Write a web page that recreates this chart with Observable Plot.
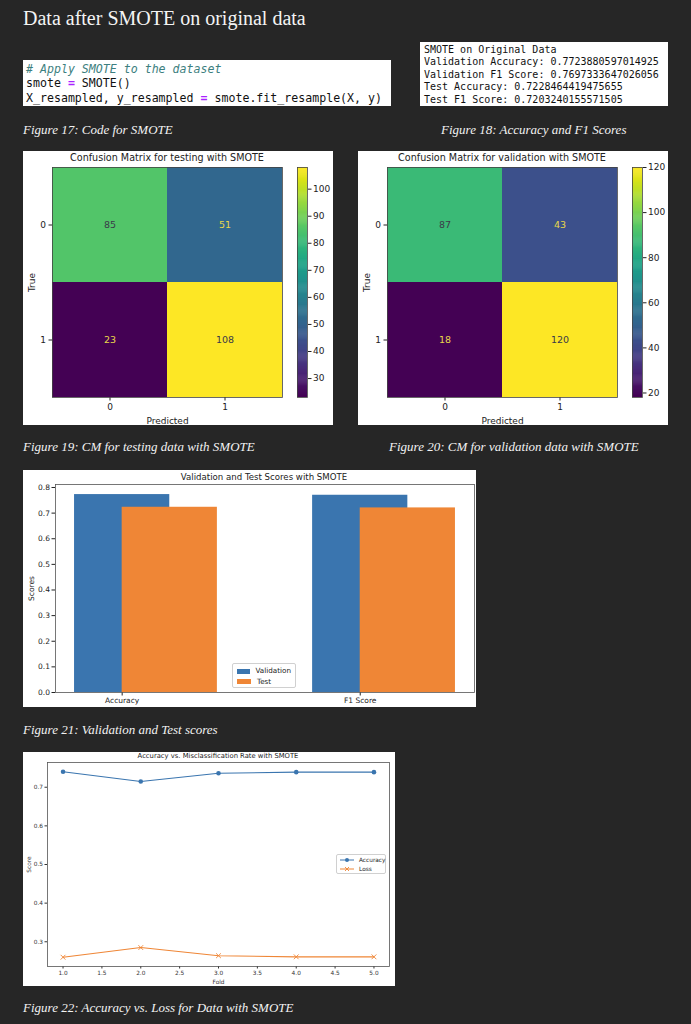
<!DOCTYPE html>
<html><head><meta charset="utf-8">
<script src="https://cdn.jsdelivr.net/npm/d3@7"></script>
<script src="https://cdn.jsdelivr.net/npm/@observablehq/plot@0.6"></script>
<style>
html,body{margin:0;padding:0;background:#262626;}
#page{position:relative;width:691px;height:1024px;overflow:hidden;background:#262626;}
.cap{position:absolute;font-family:"Liberation Serif",serif;font-style:italic;font-size:13px;line-height:16px;color:#f2f2f2;white-space:nowrap;}
.panel{position:absolute;background:#fff;overflow:hidden;}
.mono{font-family:"DejaVu Sans Mono",monospace;white-space:pre;color:#111;}
.ptitle{position:absolute;font-family:"DejaVu Sans",sans-serif;color:#222;white-space:nowrap;transform:translateX(-50%);}
.abs{position:absolute;}
.legend{position:absolute;background:#fff;border:1px solid #d0d0d0;border-radius:2px;font-family:"DejaVu Sans",sans-serif;color:#222;box-sizing:border-box;}
.legend .row{display:flex;align-items:center;white-space:nowrap;}
</style></head><body><div id="page"></div>
<script>
// ---------- data ----------
const pageTitle = "Data after SMOTE on original data";
const captions = [
  "Figure 17: Code for SMOTE",
  "Figure 18: Accuracy and F1 Scores",
  "Figure 19: CM for testing data with SMOTE",
  "Figure 20: CM for validation data with SMOTE",
  "Figure 21: Validation and Test scores",
  "Figure 22: Accuracy vs. Loss for Data with SMOTE"
];
const codeLines = [
  '<span style="color:#3d7f80;font-style:italic"># Apply SMOTE to the dataset</span>',
  'smote <span style="color:#aa22ff;font-weight:bold">=</span> SMOTE()',
  'X_resampled, y_resampled <span style="color:#aa22ff;font-weight:bold">=</span> smote.fit_resample(X, y)'
];
const scoreLines = [
  "SMOTE on Original Data",
  "Validation Accuracy: 0.7723880597014925",
  "Validation F1 Score: 0.7697333647026056",
  "Test Accuracy: 0.7228464419475655",
  "Test F1 Score: 0.7203240155571505"
];
const classLabels = [0, 1];
const cmTestValues = [[85, 51], [23, 108]];
const cmValValues = [[87, 43], [18, 120]];
const cmTestTicks = [30, 40, 50, 60, 70, 80, 90, 100];
const cmValTicks = [20, 40, 60, 80, 100, 120];
const scoreMetrics = ["Accuracy", "F1 Score"];
const scoreSeries = ["Validation", "Test"];
const validationScores = [0.7723880597014925, 0.7697333647026056];
const testScores = [0.7228464419475655, 0.7203240155571505];
const barYTicks = [0, 0.1, 0.2, 0.3, 0.4, 0.5, 0.6, 0.7, 0.8];
const folds = [1, 2, 3, 4, 5];
const foldAccuracy = [0.740, 0.715, 0.736, 0.739, 0.739];
const foldLoss = [0.260, 0.285, 0.264, 0.261, 0.261];
const foldTicks = [1, 1.5, 2, 2.5, 3, 3.5, 4, 4.5, 5];
const lineYTicks = [0.3, 0.4, 0.5, 0.6, 0.7];
const lineSeries = ["Accuracy", "Loss"];
const blue = "#3a75af", orange = "#ef8636";

// ---------- helpers ----------
const page = document.getElementById("page");
function el(tag, cls, css, html) {
  const e = document.createElement(tag);
  if (cls) e.className = cls;
  Object.assign(e.style, css || {});
  if (html != null) e.innerHTML = html;
  return e;
}
function place(parent, node, left, top) {
  node.style.position = "absolute";
  node.style.left = left + "px";
  node.style.top = top + "px";
  parent.appendChild(node);
  return node;
}
const font = "DejaVu Sans, sans-serif";

// page title
page.appendChild(el("div", "abs", {left: "23px", top: "6px", fontFamily: "'Liberation Serif', serif", fontSize: "20px", lineHeight: "24px", color: "#f4f4f4", whiteSpace: "nowrap"}, pageTitle));

// code block
const code = el("div", "panel", {left: "23px", top: "60px", width: "368px", height: "46px"});
codeLines.forEach((l, i) => code.appendChild(el("div", "mono abs", {left: "3px", top: (3 + i * 14.4) + "px", fontSize: "11.6px", lineHeight: "13px"}, l)));
page.appendChild(code);

// score block
const sc = el("div", "panel", {left: "420px", top: "42px", width: "248px", height: "64px"});
scoreLines.forEach((l, i) => {
  const d = el("div", "mono abs", {left: "4px", top: (2 + i * 12.4) + "px", fontSize: "10px", lineHeight: "11.5px"});
  d.textContent = l;
  sc.appendChild(d);
});
page.appendChild(sc);

// captions
const capPos = [[23, 122], [441, 122], [23, 439], [389, 439], [23, 722], [23, 1000]];
captions.forEach((c, i) => page.appendChild(el("div", "cap", {left: capPos[i][0] + "px", top: capPos[i][1] + "px"}, c)));

// ---------- confusion matrices ----------
function confusion(values, title, left, top, cbTicks) {
  const cells = [];
  values.forEach((row, i) => row.forEach((v, j) => cells.push({t: classLabels[i], p: classLabels[j], v})));
  const lo = d3.min(cells, d => d.v), hi = d3.max(cells, d => d.v);
  const thresh = (lo + hi) / 2;
  const panel = el("div", "panel", {left: left + "px", top: top + "px", width: "310px", height: "274px"});
  page.appendChild(panel);
  const color = {type: "linear", scheme: "viridis", domain: [lo, hi]};
  const plot = Plot.plot({
    width: 270, height: 274, marginLeft: 29, marginRight: 11, marginTop: 16, marginBottom: 28,
    style: {fontFamily: font, fontSize: "9px", color: "#222", background: "transparent", overflow: "visible"},
    x: {type: "band", domain: classLabels, padding: 0, label: "Predicted", labelArrow: "none", labelAnchor: "center", labelOffset: 26, tickSize: 3.5, tickPadding: 3},
    y: {type: "band", domain: classLabels, padding: 0, label: "True", labelArrow: "none", labelAnchor: "center", labelOffset: 24, tickSize: 3.5, tickPadding: 3},
    color,
    marks: [
      Plot.cell(cells, {x: "p", y: "t", fill: "v"}),
      Plot.text(cells, {filter: d => d.v < thresh, x: "p", y: "t", text: "v", fill: "#e8d84a", fontSize: 9.5}),
      Plot.text(cells, {filter: d => d.v >= thresh, x: "p", y: "t", text: "v", fill: "#3a3a4a", fontSize: 9.5}),
      Plot.frame({stroke: "#444", strokeWidth: 0.8})
    ]
  });
  place(panel, plot, 0, 0);
  panel.appendChild(el("div", "ptitle", {left: "144px", top: "0px", fontSize: "9.6px", lineHeight: "14px"}, title));
  // colorbar
  const n = 240, step = (hi - lo) / n;
  const stops = d3.range(n).map(k => lo + k * step);
  const cb = Plot.plot({
    width: 44, height: 240, marginLeft: 2, marginRight: 32, marginTop: 5, marginBottom: 5,
    style: {fontFamily: font, fontSize: "9px", color: "#222", background: "transparent", overflow: "visible"},
    x: {axis: null},
    y: {domain: [lo, hi], axis: "right", ticks: cbTicks, tickSize: 3.5, tickPadding: 2, label: null},
    color,
    marks: [
      Plot.rect(stops, {y1: d => d, y2: d => Math.min(hi, d + step * 1.5), fill: d => d}),
      Plot.frame({stroke: "#444", strokeWidth: 0.8})
    ]
  });
  place(panel, cb, 272, 11);
}
confusion(cmTestValues, "Confusion Matrix for testing with SMOTE", 23, 151, cmTestTicks);
confusion(cmValValues, "Confusion Matrix for validation with SMOTE", 358, 151, cmValTicks);

// ---------- bar chart ----------
{
  const panel = el("div", "panel", {left: "23px", top: "470px", width: "453px", height: "237px"});
  page.appendChild(panel);
  const barData = scoreMetrics.flatMap((m, i) => [
    {i, s: scoreSeries[0], v: validationScores[i], off: 0},
    {i, s: scoreSeries[1], v: testScores[i], off: 0.2}
  ]);
  const plot = Plot.plot({
    width: 453, height: 237, marginLeft: 32, marginRight: 2, marginTop: 14, marginBottom: 15,
    style: {fontFamily: font, fontSize: "7.5px", color: "#222", background: "transparent", overflow: "visible"},
    x: {domain: [-0.28, 1.48], ticks: [0, 1], tickFormat: i => scoreMetrics[i], tickSize: 3.5, tickPadding: 2, label: null},
    y: {domain: [0, 0.8117], ticks: barYTicks, tickFormat: d3.format(".1f"), tickSize: 3.5, tickPadding: 2, label: "Scores", labelArrow: "none", labelAnchor: "center", labelOffset: 27},
    color: {domain: scoreSeries, range: [blue, orange]},
    marks: [
      Plot.rectY(barData, {x1: d => d.i + d.off - 0.2, x2: d => d.i + d.off + 0.2, y: "v", fill: "s"}),
      Plot.frame({stroke: "#555", strokeWidth: 0.8})
    ]
  });
  place(panel, plot, 0, 0);
  panel.appendChild(el("div", "ptitle", {left: "241px", top: "1px", fontSize: "8.6px", lineHeight: "12px"}, "Validation and Test Scores with SMOTE"));
  const lg = el("div", "legend", {left: "209px", top: "193px", width: "64px", height: "25px", padding: "2px 4px", fontSize: "7.2px", lineHeight: "10.5px"});
  scoreSeries.forEach((s, k) => {
    const r = el("div", "row");
    r.appendChild(el("span", null, {display: "inline-block", width: "14px", height: "5px", background: k ? orange : blue, marginRight: "6px"}));
    r.appendChild(el("span", null, {}, s));
    lg.appendChild(r);
  });
  panel.appendChild(lg);
}

// ---------- line chart ----------
{
  const panel = el("div", "panel", {left: "23px", top: "752px", width: "372px", height: "234px"});
  page.appendChild(panel);
  const acc = folds.map((f, i) => ({f, v: foldAccuracy[i]}));
  const loss = folds.map((f, i) => ({f, v: foldLoss[i]}));
  const plot = Plot.plot({
    width: 372, height: 234, marginLeft: 24, marginRight: 6, marginTop: 10, marginBottom: 20,
    style: {fontFamily: font, fontSize: "5.8px", color: "#333", background: "transparent", overflow: "visible"},
    x: {domain: [0.8, 5.2], ticks: foldTicks, tickFormat: d3.format(".1f"), tickSize: 2.5, tickPadding: 2, label: "Fold", labelArrow: "none", labelAnchor: "center", labelOffset: 17},
    y: {domain: [0.236, 0.764], ticks: lineYTicks, tickFormat: d3.format(".1f"), tickSize: 2.5, tickPadding: 2, label: "Score", labelArrow: "none", labelAnchor: "center", labelOffset: 21},
    marks: [
      Plot.frame({stroke: "#555", strokeWidth: 0.8}),
      Plot.line(acc, {x: "f", y: "v", stroke: blue, strokeWidth: 1.1}),
      Plot.dot(acc, {x: "f", y: "v", fill: blue, r: 2.3}),
      Plot.line(loss, {x: "f", y: "v", stroke: orange, strokeWidth: 1.1}),
      Plot.dot(loss, {x: "f", y: "v", symbol: "times", stroke: orange, strokeWidth: 0.9, r: 2.3})
    ]
  });
  place(panel, plot, 0, 0);
  panel.appendChild(el("div", "ptitle", {left: "195px", top: "0px", fontSize: "6.8px", lineHeight: "9px"}, "Accuracy vs. Misclassification Rate with SMOTE"));
  const lg = el("div", "legend", {left: "313px", top: "102px", width: "50px", height: "20px", padding: "1px 3px", fontSize: "5.8px", lineHeight: "8.5px"});
  lineSeries.forEach((s, k) => {
    const r = el("div", "row");
    const c = k ? orange : blue;
    const sym = k
      ? '<svg width="14" height="6"><line x1="0" y1="3" x2="14" y2="3" stroke="' + c + '" stroke-width="1"/><path d="M5,1L9,5M9,1L5,5" stroke="' + c + '" stroke-width="0.9"/></svg>'
      : '<svg width="14" height="6"><line x1="0" y1="3" x2="14" y2="3" stroke="' + c + '" stroke-width="1"/><circle cx="7" cy="3" r="2" fill="' + c + '"/></svg>';
    r.appendChild(el("span", null, {display: "inline-block", width: "14px", height: "6px", marginRight: "5px", lineHeight: "0"}, sym));
    r.appendChild(el("span", null, {}, s));
    lg.appendChild(r);
  });
  panel.appendChild(lg);
}
</script></body></html>
